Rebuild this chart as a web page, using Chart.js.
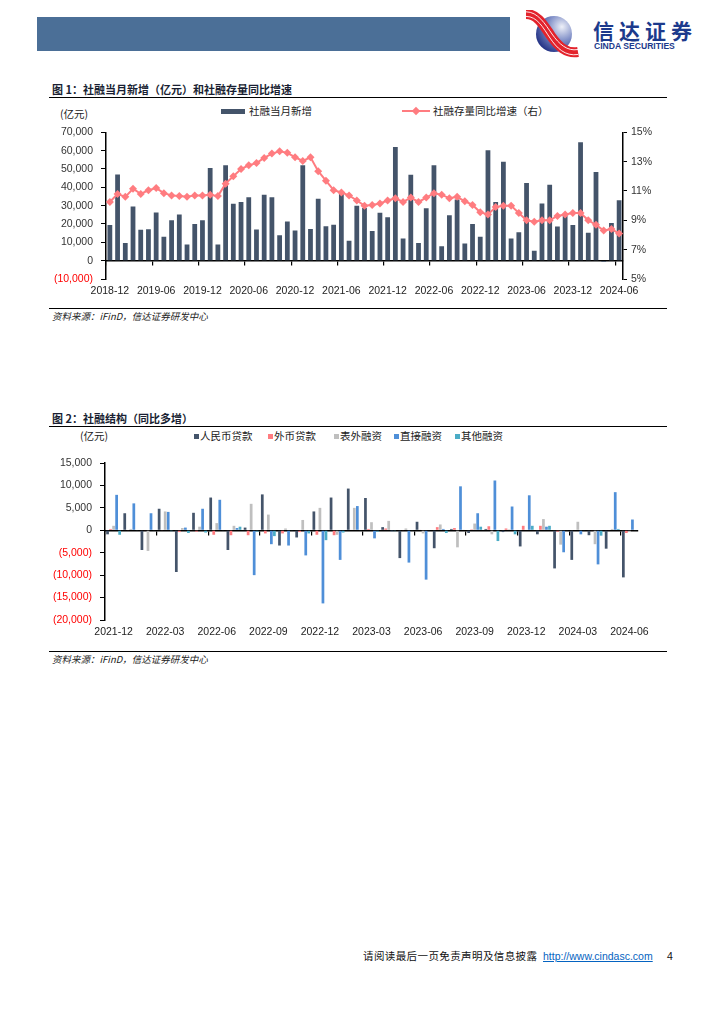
<!DOCTYPE html>
<html lang="zh-CN">
<head>
<meta charset="utf-8">
<title>社融当月新增和社融结构</title>
<script src="https://cdn.jsdelivr.net/npm/chart.js@4.4.1/dist/chart.umd.min.js"></script>
<style>
  body { margin:0; width:724px; height:1024px; position:relative; background:#fff; overflow:hidden;
         font-family:"Noto Sans CJK SC","Noto Sans",sans-serif; color:#111; }
  .a { position:absolute; white-space:nowrap; line-height:1; }
  .title { left:52px; font-size:11px; font-weight:bold; color:#1a1f33; }
  .rule { position:absolute; left:49px; width:618px; background:#000; }
  .src { left:52px; font-size:9.5px; font-style:italic; color:#222; }
  .lg { font-size:10.5px; color:#222; }
  .sq { position:absolute; width:5px; height:5px; }
  canvas { position:absolute; }
</style>
</head>
<body>

<!-- header -->
<div class="a" style="left:37px;top:17px;width:473px;height:34px;background:#4b6f97"></div>
<svg class="a" style="left:520px;top:10px" width="66" height="48">
  <defs>
    <radialGradient id="ball" cx="0.72" cy="0.3" r="0.85">
      <stop offset="0" stop-color="#eef0f8"/>
      <stop offset="0.45" stop-color="#8190c8"/>
      <stop offset="1" stop-color="#16257c"/>
    </radialGradient>
  </defs>
  <circle cx="34" cy="24" r="18" fill="url(#ball)"/>
  <path d="M6 4 C18 4 24 16 31 26 S46 44 58 42" stroke="#e3232c" stroke-width="10" fill="none"/>
  <path d="M6 1.8 C18 1.8 25 14 32 24 S47 41.5 58 39.5" stroke="#fff" stroke-width="0.9" fill="none"/>
  <path d="M6 6.4 C17.5 6.4 23.2 18 30 28 S45 46.5 58 44.5" stroke="#fff" stroke-width="0.9" fill="none"/>
</svg>
<div class="a" style="left:593px;top:20px;font-size:21px;font-weight:bold;color:#1c3a8c;letter-spacing:5px">信达证券</div>
<div class="a" style="left:594px;top:42px;font-size:8.6px;font-weight:bold;color:#1c3a8c;font-family:'Liberation Sans',sans-serif">CINDA SECURITIES</div>

<!-- figure 1 -->
<div class="a title" style="top:83.5px">图 1：社融当月新增（亿元）和社融存量同比增速</div>
<div class="rule" style="top:96.5px;height:1.5px"></div>
<div class="a lg" style="left:60px;top:109px">(亿元)</div>
<div class="a" style="left:221px;top:109px;width:24px;height:5px;background:#44546a"></div>
<div class="a lg" style="left:249px;top:106px">社融当月新增</div>
<div class="a" style="left:402px;top:110px;width:28px;height:2px;background:#ff7c80"></div>
<div class="a" style="left:413px;top:108px;width:6px;height:6px;background:#ff7c80;transform:rotate(45deg)"></div>
<div class="a lg" style="left:433px;top:106px">社融存量同比增速（右）</div>
<canvas id="c1" width="640" height="184" style="left:40px;top:118px"></canvas>
<div class="rule" style="top:308px;height:1px"></div>
<div class="a src" style="top:311.5px">资料来源：iFinD，信达证券研发中心</div>

<!-- figure 2 -->
<div class="a title" style="top:412.5px">图 2：社融结构（同比多增）</div>
<div class="rule" style="top:425.5px;height:1.5px"></div>
<div class="a lg" style="left:80px;top:431px">(亿元)</div>
<div class="sq" style="left:194px;top:433.5px;background:#44546a"></div>
<div class="a lg" style="left:200px;top:431px">人民币贷款</div>
<div class="sq" style="left:268px;top:433.5px;background:#ff7c80"></div>
<div class="a lg" style="left:274px;top:431px">外币贷款</div>
<div class="sq" style="left:334px;top:433.5px;background:#bfbfbf"></div>
<div class="a lg" style="left:340px;top:431px">表外融资</div>
<div class="sq" style="left:394px;top:433.5px;background:#4f8fd8"></div>
<div class="a lg" style="left:400px;top:431px">直接融资</div>
<div class="sq" style="left:455px;top:433.5px;background:#4bacc6"></div>
<div class="a lg" style="left:461px;top:431px">其他融资</div>
<canvas id="c2" width="640" height="202" style="left:40px;top:443px"></canvas>
<div class="rule" style="top:651px;height:1px"></div>
<div class="a src" style="top:654.5px">资料来源：iFinD，信达证券研发中心</div>

<!-- footer -->
<div class="a" style="left:363px;top:950.5px;font-size:10.5px;color:#111;letter-spacing:0.4px">请阅读最后一页免责声明及信息披露</div>
<div class="a" style="left:543px;top:950.5px;font-size:10.5px;color:#0563c1;text-decoration:underline;font-family:'Liberation Sans',sans-serif">http://www.cindasc.com</div>
<div class="a" style="left:667px;top:950.5px;font-size:10.5px;color:#111;font-family:'Liberation Sans',sans-serif">4</div>

<script>
// ---- figure 1 data: monthly new TSF (亿元) and TSF stock growth (%) ----
const months1 = [
  '2018-12',
  '2019-01','2019-02','2019-03','2019-04','2019-05','2019-06','2019-07','2019-08','2019-09','2019-10','2019-11','2019-12',
  '2020-01','2020-02','2020-03','2020-04','2020-05','2020-06','2020-07','2020-08','2020-09','2020-10','2020-11','2020-12',
  '2021-01','2021-02','2021-03','2021-04','2021-05','2021-06','2021-07','2021-08','2021-09','2021-10','2021-11','2021-12',
  '2022-01','2022-02','2022-03','2022-04','2022-05','2022-06','2022-07','2022-08','2022-09','2022-10','2022-11','2022-12',
  '2023-01','2023-02','2023-03','2023-04','2023-05','2023-06','2023-07','2023-08','2023-09','2023-10','2023-11','2023-12',
  '2024-01','2024-02','2024-03','2024-04','2024-05','2024-06'
];
const tsfNew = [
  19500,
  47000, 9700, 29600, 16800, 17100, 26200, 13000, 22000, 25200, 8800, 20000, 22000,
  50500, 8800, 52000, 31100, 32000, 34600, 17000, 36000, 34600, 13900, 21300, 16400,
  52000, 17300, 33700, 18700, 19600, 36600, 10900, 30000, 28700, 16200, 26100, 23700,
  62000, 12100, 46800, 9600, 28600, 52000, 7900, 24800, 33400, 9300, 20000, 13000,
  60200, 32000, 53900, 12100, 15500, 42300, 5400, 31200, 41400, 18600, 24500, 19500,
  64600, 15200, 48400, -700, 20500, 33000
];
const tsfGrowth = [
  10.25,
  10.8, 10.6, 11.15, 10.8, 11.05, 11.2, 10.85, 10.7, 10.65, 10.6, 10.7, 10.7,
  10.75, 10.65, 11.5, 12.0, 12.5, 12.75, 12.9, 13.25, 13.55, 13.7, 13.6, 13.3,
  13.05, 13.3, 12.35, 11.7, 11.05, 10.9, 10.7, 10.35, 10.0, 10.05, 10.15, 10.35,
  10.5, 10.25, 10.55, 10.25, 10.55, 10.85, 10.75, 10.5, 10.6, 10.3, 10.05, 9.55,
  9.4, 9.9, 10.0, 10.0, 9.5, 9.0, 8.9, 9.0, 9.0, 9.3, 9.4, 9.5,
  9.5, 9.0, 8.7, 8.3, 8.4, 8.1
];

// ---- figure 2 data: TSF structure, y/y change (亿元) ----
const months2 = [
  '2021-12',
  '2022-01','2022-02','2022-03','2022-04','2022-05','2022-06','2022-07','2022-08','2022-09','2022-10','2022-11','2022-12',
  '2023-01','2023-02','2023-03','2023-04','2023-05','2023-06','2023-07','2023-08','2023-09','2023-10','2023-11','2023-12',
  '2024-01','2024-02','2024-03','2024-04','2024-05','2024-06'
];
const rmbLoans   = [-900, 3800, -4400, 4800, -9300, 3900, 7300, -4400, 600, 8000, -3400, -1600, 4200, 7300, 9300, 7200, 700, -6200, 1900, -4000, 300, -600, 300, -400, -3600, -900, -8500, -6600, -1100, -4100, -10500];
const fxLoans    = [300, -100, -100, -100, -400, -300, -1000, -1100, -1100, -700, -700, -400, -1000, -1100, 100, 300, 400, -100, 100, 700, 500, 200, 900, 400, 1000, 1000, -300, 0, -100, -100, -600];
const offBalance = [1000, 300, -4600, 4200, 500, 800, 1600, 1000, 5900, 3500, 400, 2300, 5000, -1000, 5000, 1800, 2100, 400, -700, 1300, -3800, 1500, -900, 200, 100, 2500, -3200, 1900, -3100, 300, -400];
const directFin  = [7900, 6000, 3800, 4100, 600, 4800, 6800, 500, -10000, -3100, -3400, -5600, -16300, -6600, 5400, -1800, -200, -7200, -11000, 300, 9800, 3800, 11100, 5300, 7800, 800, -4900, -900, -7600, 8500, 2400];
const otherFin   = [-1000, -100, -100, -200, -600, -500, -100, 800, -300, -1300, -100, -700, -2200, -500, -100, -300, -200, -100, -100, -600, 100, 800, -2400, -900, 1000, 1000, -100, -100, -1200, 300, -100];

Chart.defaults.font.family = '"Liberation Sans", sans-serif';
const tickFont = { family: '"Liberation Sans", sans-serif', size: 10.5 };

function fmtAmount(v) {
  const s = Math.abs(v).toLocaleString('en-US');
  return v < 0 ? '(' + s + ')' : s;
}
const amountColor = c => (c.tick && c.tick.value < 0) ? '#ff0000' : '#333';

// x axis for labels only, plus a second one sitting on the zero line for the tick marks
function labelAxis(labels, every, h) {
  return {
    type: 'category', offset: true,
    grid: { display: false, drawTicks: false },
    border: { display: false },
    ticks: { autoSkip: false, maxRotation: 0, minRotation: 0, padding: 6, color: '#222', font: tickFont,
             callback: (v, i) => i % every === 0 ? labels[i] : '' },
    afterFit: s => { s.height = h; }
  };
}
function zeroAxis(every) {
  return {
    axis: 'x', type: 'category', position: { y: 0 }, offset: true, z: 1,
    border: { color: '#000', width: 1.5 },
    grid: { offset: true, drawOnChartArea: false, tickLength: 4, lineWidth: 1.2,
            color: c => (c.index !== undefined && c.index % every === 0) ? '#000' : 'rgba(0,0,0,0)' },
    ticks: { display: false, autoSkip: false }
  };
}

new Chart(document.getElementById('c1'), {
  type: 'bar',
  data: {
    labels: months1,
    datasets: [
      { type: 'line', label: '社融存量同比增速（右）', data: tsfGrowth, xAxisID: 'x', yAxisID: 'y1',
        borderColor: '#ff7c80', backgroundColor: '#ff7c80', borderWidth: 2,
        pointStyle: 'rectRot', pointRadius: 4, pointBorderWidth: 0, tension: 0, order: 0 },
      { type: 'bar', label: '社融当月新增', data: tsfNew, xAxisID: 'x', yAxisID: 'y',
        backgroundColor: '#44546a', categoryPercentage: 1, barPercentage: 0.62, order: 1 }
    ]
  },
  options: {
    responsive: false, animation: false,
    layout: { padding: { top: 12 } },
    plugins: { legend: { display: false }, tooltip: { enabled: false } },
    scales: {
      x: labelAxis(months1, 6, 23),
      x2: zeroAxis(6),
      y: {
        position: 'left', min: -10000, max: 70000,
        ticks: { stepSize: 10000, padding: 8, font: tickFont, color: amountColor, callback: v => fmtAmount(v) },
        grid: { drawOnChartArea: false, tickLength: 5, color: '#000' },
        border: { color: '#000', width: 1.5 },
        afterFit: s => { s.width = 66; }
      },
      y1: {
        position: 'right', min: 5, max: 15,
        ticks: { stepSize: 2, padding: 4, font: tickFont, color: '#333', callback: v => v + '%' },
        grid: { drawOnChartArea: false, tickLength: 4, color: '#000' },
        border: { color: '#000', width: 1.5 },
        afterFit: s => { s.width = 57; }
      }
    }
  }
});

const groupBar = { categoryPercentage: 0.88, barPercentage: 0.9, xAxisID: 'x' };
new Chart(document.getElementById('c2'), {
  type: 'bar',
  data: {
    labels: months2,
    datasets: [
      { label: '人民币贷款', data: rmbLoans,   backgroundColor: '#44546a', ...groupBar },
      { label: '外币贷款',   data: fxLoans,    backgroundColor: '#ff7c80', ...groupBar },
      { label: '表外融资',   data: offBalance, backgroundColor: '#bfbfbf', ...groupBar },
      { label: '直接融资',   data: directFin,  backgroundColor: '#4f8fd8', ...groupBar },
      { label: '其他融资',   data: otherFin,   backgroundColor: '#4bacc6', ...groupBar }
    ]
  },
  options: {
    responsive: false, animation: false,
    layout: { padding: { top: 20, right: 42 } },
    plugins: { legend: { display: false }, tooltip: { enabled: false } },
    scales: {
      x: labelAxis(months2, 3, 25),
      x2: zeroAxis(3),
      y: {
        position: 'left', min: -20000, max: 15000,
        ticks: { stepSize: 5000, padding: 8, font: tickFont, color: amountColor, callback: v => fmtAmount(v) },
        grid: { drawOnChartArea: false, tickLength: 5, color: '#000' },
        border: { color: '#000', width: 1.5 },
        afterFit: s => { s.width = 65; }
      }
    }
  }
});
</script>
</body>
</html>
